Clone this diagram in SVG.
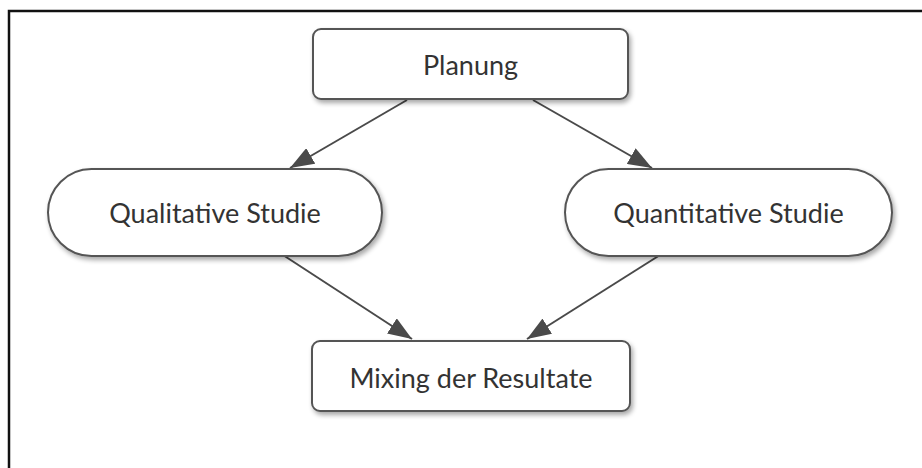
<svg xmlns="http://www.w3.org/2000/svg" width="922" height="468" viewBox="0 0 922 468">
<defs>
<filter id="sh" x="-10%" y="-20%" width="130%" height="150%">
<feGaussianBlur in="SourceAlpha" stdDeviation="2.5"/>
<feOffset dx="2" dy="3" result="b"/>
<feComponentTransfer><feFuncA type="linear" slope="0.35"/></feComponentTransfer>
<feMerge><feMergeNode/><feMergeNode in="SourceGraphic"/></feMerge>
</filter>
<marker id="arr" viewBox="0 0 24 18" refX="24" refY="9" markerWidth="24" markerHeight="18" markerUnits="userSpaceOnUse" orient="auto">
<path d="M0,0 L24,9 L0,18 z" fill="#4a4a4a"/>
</marker>
</defs>
<style>
.node{fill:#fff;stroke:#555;stroke-width:2;filter:url(#sh)}
.lbl{font-family:"Lato","Open Sans",sans-serif;font-size:27px;fill:#333;text-anchor:middle;dominant-baseline:central}
.edge{stroke:#4a4a4a;stroke-width:2;fill:none;marker-end:url(#arr)}
</style>
<rect width="922" height="468" fill="#fff"/>
<path d="M9,468 L9,11 L922,11" fill="none" stroke="#111" stroke-width="2.5"/>
<g id="edges">
<line class="edge" x1="407" y1="100" x2="290" y2="168"/>
<line class="edge" x1="533" y1="100" x2="652" y2="168"/>
<line class="edge" x1="283" y1="255" x2="412" y2="339"/>
<line class="edge" x1="660" y1="255" x2="527" y2="339"/>
</g>
<g id="planung">
<rect class="node" x="313" y="29" width="315" height="70" rx="8"/>
<text class="lbl" x="470.5" y="64">Planung</text>
</g>
<g id="qualitativ">
<rect class="node" x="48" y="169" width="334" height="87" rx="43.5"/>
<text class="lbl" x="215" y="212">Qualitative Studie</text>
</g>
<g id="quantitativ">
<rect class="node" x="565" y="169" width="327" height="87" rx="43.5"/>
<text class="lbl" x="728.5" y="212">Quantitative Studie</text>
</g>
<g id="mixing">
<rect class="node" x="312" y="341" width="318" height="70" rx="8"/>
<text class="lbl" x="471" y="377">Mixing der Resultate</text>
</g>
</svg>
